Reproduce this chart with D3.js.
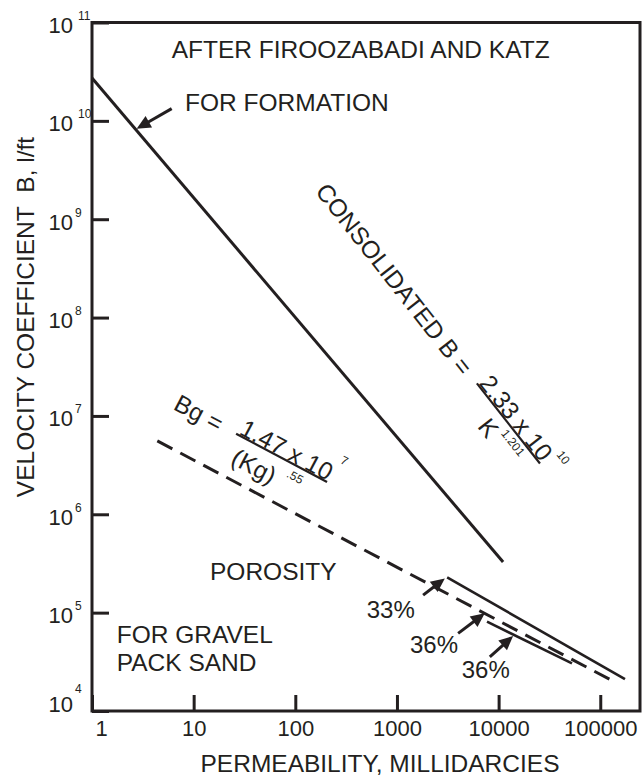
<!DOCTYPE html>
<html>
<head>
<meta charset="utf-8">
<script src="https://cdn.jsdelivr.net/npm/d3@7"></script>
<style>
body{margin:0;background:#fff}
text{font-family:"Liberation Sans",Arial,sans-serif;fill:#231f20}
</style>
</head>
<body>
<div id="chart"></div>
<script>
(function(){
	// values
	var xTicks = [1,10,100,1000,10000,100000];
	var yTicks = [1e4,1e5,1e6,1e7,1e8,1e9,1e10,1e11];
	var yExp = ["4","5","6","7","8","9","10","11"];
	// lines: [permeability md, B 1/ft]
	var formation = [[1,2.73e10],[11070,3.27e5]];
	var gravel = [[4.39,5.57e6],[1.46e5,1.92e4]];
	var poro33 = [[3118,2.28e5],[1.75e5,2.11e4]];
	var poro36 = [[7690,8.09e4],[52700,3.05e4]];
	// arrows: [tail, tip]
	var arrows = [
		[[6.08,1.33e10],[2.75,8.32e9]],
		[[1809,1.508e5],[2958,2.228e5]],
		[[3999,6.15e4],[7311,9.84e4]],
		[[8196,3.56e4],[13887,5.78e4]]
	];

	var W = 643, H = 779, ink = "#231f20";
	var x = d3.scaleLog().domain([1,2.46e5]).range([92,640]);
	var y = d3.scaleLog().domain([1e4,1e11]).range([711,22.5]);

	var svg = d3.select("#chart").append("svg")
		.attr("width", W).attr("height", H);
	svg.append("rect").attr("width", W).attr("height", H).attr("fill", "#fff");

	// x axis
	var xa = svg.append("g").attr("transform", "translate(0,711)")
		.call(d3.axisBottom(x).tickValues(xTicks).tickSize(-16).tickFormat(d3.format("d")));
	xa.select(".domain").remove();
	xa.selectAll("line").attr("stroke", ink).attr("stroke-width", 3);
	xa.selectAll("text").attr("y", 25).attr("dy", 0)
		.attr("font-size", 22).attr("fill", ink)
		.attr("dx", function(d){ return d === 1 ? 9 : 0; });
	xa.attr("font-family", null).attr("font-size", null);

	// y axis
	var ya = svg.append("g").attr("transform", "translate(92,0)")
		.call(d3.axisLeft(y).tickValues(yTicks).tickSize(-17).tickFormat(""));
	ya.select(".domain").remove();
	ya.attr("font-family", null).attr("font-size", null).attr("text-anchor", null);
	ya.selectAll("line").attr("stroke", ink).attr("stroke-width", 3);
	ya.selectAll(".tick").each(function(d, i){
		var g = d3.select(this), low = (d === 1e4);
		g.select("text").remove();
		g.append("text").attr("x", -19).attr("y", low ? 0 : 10)
			.attr("text-anchor", "end").attr("font-size", 22).text("10");
		g.append("text").attr("x", yExp[i].length > 1 ? -14 : -17).attr("y", low ? -19 : -3)
			.attr("text-anchor", "start").attr("font-size", 12).text(yExp[i]);
	});

	// frame
	svg.append("rect").attr("x", 92).attr("y", 22.5)
		.attr("width", 548).attr("height", 688.5)
		.attr("fill", "none").attr("stroke", ink).attr("stroke-width", 3);

	var line = d3.line().x(function(d){ return x(d[0]); }).y(function(d){ return y(d[1]); });
	svg.append("path").attr("d", line(formation)).attr("fill", "none")
		.attr("stroke", ink).attr("stroke-width", 3);
	svg.append("path").attr("d", line(gravel)).attr("fill", "none")
		.attr("stroke", ink).attr("stroke-width", 3).attr("stroke-dasharray", "17,9");
	svg.append("path").attr("d", line(poro33)).attr("fill", "none")
		.attr("stroke", ink).attr("stroke-width", 2.6);
	svg.append("path").attr("d", line(poro36)).attr("fill", "none")
		.attr("stroke", ink).attr("stroke-width", 2.6);

	// arrows
	arrows.forEach(function(a){
		var x0 = x(a[0][0]), y0 = y(a[0][1]), x1 = x(a[1][0]), y1 = y(a[1][1]);
		var dx = x1 - x0, dy = y1 - y0, len = Math.sqrt(dx*dx + dy*dy);
		var ux = dx/len, uy = dy/len, hl = 14, hw = 6.5;
		var bx = x1 - ux*hl, by = y1 - uy*hl;
		svg.append("line").attr("x1", x0).attr("y1", y0).attr("x2", bx + ux*2).attr("y2", by + uy*2)
			.attr("stroke", ink).attr("stroke-width", 3);
		svg.append("path").attr("fill", ink)
			.attr("d", "M" + x1 + "," + y1 + "L" + (bx - uy*hw) + "," + (by + ux*hw) +
				"L" + (bx + uy*hw) + "," + (by - ux*hw) + "Z");
	});

	// texts
	function label(px, py, s, size){
		return svg.append("text").attr("x", px).attr("y", py)
			.attr("font-size", size || 24.5).text(s);
	}
	label(171.7, 58.3, "AFTER FIROOZABADI AND KATZ");
	label(185, 110.7, "FOR FORMATION");
	label(210, 580, "POROSITY");
	label(116.7, 643.3, "FOR GRAVEL");
	label(116.7, 670.7, "PACK SAND");
	label(366.7, 618.3, "33%", 24);
	label(410, 653.3, "36%", 24);
	label(461.7, 677.5, "36%", 24);

	svg.append("text").attr("x", 380).attr("y", 771.5).attr("text-anchor", "middle")
		.attr("font-size", 24.5).text("PERMEABILITY, MILLIDARCIES");
	svg.append("text").attr("transform", "translate(33.5,317) rotate(-90)")
		.attr("text-anchor", "middle").attr("font-size", 24.5)
		.text("VELOCITY COEFFICIENT\u00A0 B, l/ft");

	// consolidated formula
	var c = svg.append("g").attr("transform", "translate(314.6,191.7) rotate(51.8)");
	c.append("text").attr("font-size", 24.5).text("CONSOLIDATED B =");
	c.append("text").attr("x", 252).attr("y", -10).attr("font-size", 24.5).text("2.33 x 10");
	c.append("line").attr("x1", 251).attr("y1", -9).attr("x2", 353).attr("y2", -9)
		.attr("stroke", ink).attr("stroke-width", 2.2);
	c.append("text").attr("x", 356).attr("y", -27).attr("font-size", 12).text("10");
	c.append("text").attr("x", 285).attr("y", 18).attr("font-size", 24.5).text("K");
	c.append("text").attr("x", 305).attr("y", 3.5).attr("font-size", 12).text("1.201");

	// gravel pack formula
	var b = svg.append("g").attr("transform", "translate(172.3,408.8) rotate(28)");
	b.append("text").attr("font-size", 24.5).text("Bg =");
	b.append("text").attr("x", 70).attr("y", -9).attr("font-size", 24.5).text("1.47 x 10");
	b.append("line").attr("x1", 68).attr("y1", -8).attr("x2", 171).attr("y2", -8)
		.attr("stroke", ink).attr("stroke-width", 2.2);
	b.append("text").attr("x", 173).attr("y", -31).attr("font-size", 12).text("7");
	b.append("text").attr("x", 76).attr("y", 21).attr("font-size", 24.5).text("(Kg)");
	b.append("text").attr("x", 132).attr("y", 6.5).attr("font-size", 12).text(".55");
})();
</script>
</body>
</html>
